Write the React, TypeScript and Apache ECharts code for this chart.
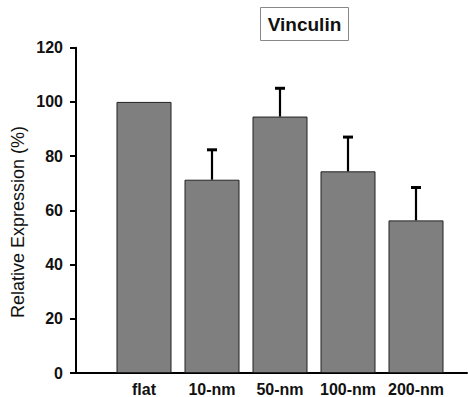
import React, { useEffect, useRef } from "react";
import * as echarts from "echarts";

const categories = ["flat", "10-nm", "50-nm", "100-nm", "200-nm"];
const values = [100, 71.3, 94.6, 74.4, 56.3];
const errors = [0, 11.4, 10.8, 13.0, 12.5];
const yTicks = [0, 20, 40, 60, 80, 100, 120];
const titleText = "Vinculin";
const yAxisTitle = "Relative Expression (%)";

const FONT = "'Liberation Sans', Arial, Helvetica, sans-serif";

export default function App() {
  const ref = useRef<HTMLDivElement>(null);
  useEffect(() => {
    if (!ref.current) return;
    const chart = echarts.init(ref.current, null, { renderer: "svg" });
    const barData = values.map((v, i) => [i + 1, v]);
    const errData = values.map((v, i) => [i + 1, v, v + errors[i]]);
    chart.setOption({
      animation: false,
      backgroundColor: "#fff",
      grid: { left: 76, right: 1, top: 47.7, bottom: 23.3, containLabel: false },
      xAxis: {
        type: "value",
        min: 0,
        max: 5.75,
        interval: 1,
        axisLine: { show: true, onZero: false, lineStyle: { color: "#000", width: 2 } },
        axisTick: { show: false },
        splitLine: { show: false },
        axisLabel: {
          showMaxLabel: false,
          showMinLabel: false,
          margin: 8,
          color: "#111",
          fontFamily: FONT,
          fontWeight: "bold",
          fontSize: 16,
          formatter: (v: number) => (Number.isInteger(v) && v >= 1 && v <= categories.length ? categories[v - 1] : ""),
        },
      },
      yAxis: {
        type: "value",
        min: yTicks[0],
        max: yTicks[yTicks.length - 1],
        interval: yTicks[1] - yTicks[0],
        axisLine: { show: true, lineStyle: { color: "#000", width: 2 } },
        axisTick: { show: true, length: 6, lineStyle: { color: "#000", width: 2 } },
        splitLine: { show: false },
        axisLabel: {
          margin: 13,
          color: "#111",
          fontFamily: FONT,
          fontWeight: "bold",
          fontSize: 16,
        },
      },
      series: [
        {
          type: "bar",
          data: barData,
          barWidth: 55,
          itemStyle: { color: "#7f7f7f", borderColor: "#222", borderWidth: 1 },
        },
        {
          type: "custom",
          data: errData,
          z: 5,
          renderItem: (params: any, api: any) => {
            const x = api.value(0);
            const lo = api.value(1);
            const hi = api.value(2);
            if (hi <= lo) return null;
            const p1 = api.coord([x, lo]);
            const p2 = api.coord([x, hi]);
            return {
              type: "group",
              children: [
                {
                  type: "line",
                  shape: { x1: p1[0], y1: p1[1], x2: p2[0], y2: p2[1] + 1 },
                  style: { stroke: "#000", lineWidth: 2.2 },
                },
                {
                  type: "line",
                  shape: { x1: p2[0] - 5, y1: p2[1] + 1, x2: p2[0] + 5, y2: p2[1] + 1 },
                  style: { stroke: "#000", lineWidth: 3 },
                },
              ],
            };
          },
        },
      ],
      graphic: [
        {
          type: "rect",
          shape: { x: 260.5, y: 7.5, width: 88, height: 33 },
          style: { fill: "#fff", stroke: "#888", lineWidth: 1 },
        },
        {
          type: "text",
          x: 304.5,
          y: 24,
          style: {
            text: titleText,
            font: `bold 19px ${FONT}`,
            fill: "#111",
            textAlign: "center",
            textVerticalAlign: "middle",
          },
        },
        {
          type: "text",
          x: 18,
          y: 222,
          rotation: Math.PI / 2,
          style: {
            text: yAxisTitle,
            font: `18px ${FONT}`,
            fill: "#111",
            textAlign: "center",
            textVerticalAlign: "middle",
          },
        },
      ],
    });
    return () => chart.dispose();
  }, []);
  return <div ref={ref} style={{ width: 468, height: 397, position: "absolute", left: 0, top: 0 }} />;
}
